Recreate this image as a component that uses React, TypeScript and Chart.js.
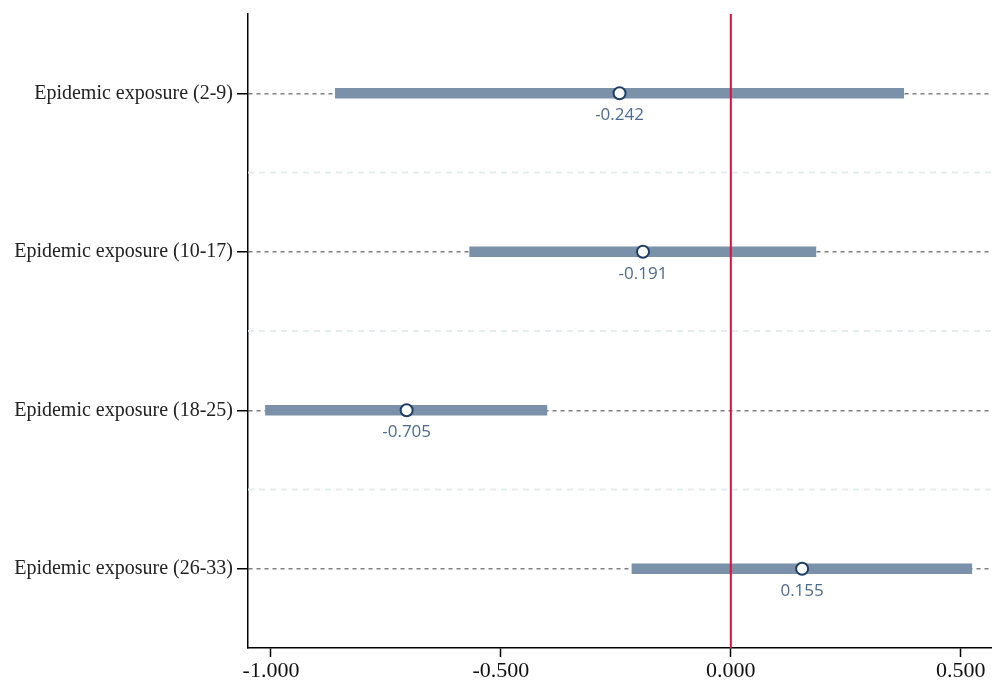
import React, { useEffect, useRef } from "react";
import { Chart, registerables } from "chart.js";

Chart.register(...registerables);

const categories = [
  "Epidemic exposure (2-9)",
  "Epidemic exposure (10-17)",
  "Epidemic exposure (18-25)",
  "Epidemic exposure (26-33)",
];
const estimates = [-0.242, -0.191, -0.705, 0.155];
const ciLow = [-0.86, -0.568, -1.012, -0.215];
const ciHigh = [0.376, 0.185, -0.4, 0.524];
const xTicks = [-1.0, -0.5, 0.0, 0.5];

export default function App() {
  const ref = useRef<HTMLCanvasElement>(null);
  useEffect(() => {
    const canvas = ref.current!;
    const separators = {
      id: "separators",
      beforeDatasetsDraw(chart: any) {
        const y = chart.scales.y;
        const { ctx, chartArea } = chart;
        ctx.save();
        ctx.strokeStyle = "#e6edef";
        ctx.lineWidth = 2;
        ctx.setLineDash([6, 5]);
        for (let i = 0; i < categories.length - 1; i++) {
          const p = (y.getPixelForTick(i) + y.getPixelForTick(i + 1)) / 2;
          ctx.beginPath();
          ctx.moveTo(chartArea.left, p);
          ctx.lineTo(chartArea.right, p);
          ctx.stroke();
        }
        ctx.restore();
      },
      afterDatasetDraw(chart: any, args: any) {
        if (args.index !== 0) return;
        const x = chart.scales.x;
        const { ctx, chartArea } = chart;
        const px = x.getPixelForValue(0);
        ctx.save();
        ctx.strokeStyle = "#d4133e";
        ctx.lineWidth = 2;
        ctx.beginPath();
        ctx.moveTo(px, chartArea.top);
        ctx.lineTo(px, chartArea.bottom);
        ctx.stroke();
        ctx.restore();
      },
      afterDatasetsDraw(chart: any) {
        const meta = chart.getDatasetMeta(1);
        const { ctx } = chart;
        ctx.save();
        ctx.fillStyle = "#4d6b8c";
        ctx.font = "17px 'Open Sans'";
        ctx.textAlign = "center";
        ctx.textBaseline = "middle";
        meta.data.forEach((el: any, i: number) => {
          ctx.fillText(estimates[i].toFixed(3), el.x, el.y + 22);
        });
        ctx.restore();
      },
    };
    const chart = new Chart(canvas, {
      type: "bar",
      data: {
        labels: categories,
        datasets: [
          {
            type: "bar",
            data: categories.map((_, i) => [ciLow[i], ciHigh[i]]) as any,
            backgroundColor: "#7b91a9",
            barThickness: 10,
            order: 2,
          },
          {
            type: "scatter",
            data: categories.map((c, i) => ({ x: estimates[i], y: c })) as any,
            backgroundColor: "#ffffff",
            borderColor: "#1f3e66",
            borderWidth: 2,
            pointRadius: 6,
            order: 1,
          } as any,
        ],
      },
      options: {
        indexAxis: "y",
        responsive: false,
        animation: false,
        devicePixelRatio: 1,
        layout: { autoPadding: false, padding: { top: 14, left: 0, right: 0, bottom: 0 } },
        plugins: { legend: { display: false }, tooltip: { enabled: false } },
        scales: {
          x: {
            type: "linear",
            min: -1.05,
            max: 0.568,
            afterBuildTicks: (s: any) => {
              s.ticks = xTicks.map((v) => ({ value: v }));
            },
            afterFit: (s: any) => {
              s.height = 38;
              s.paddingLeft = 0;
              s.paddingRight = 0;
            },
            ticks: {
              callback: (v: any) => Number(v).toFixed(3),
              color: "#111",
              font: { family: "'Liberation Serif'", size: 22 },
              padding: 1,
            },
            grid: {
              drawOnChartArea: false,
              drawTicks: true,
              tickLength: 9,
              tickColor: "#000",
              tickWidth: 1.5,
            },
            border: { display: true, color: "#000", width: 1.5 },
          },
          y: {
            type: "category",
            offset: true,
            afterFit: (s: any) => {
              s.width = 248;
              s.paddingTop = 0;
              s.paddingBottom = 0;
            },
            ticks: {
              color: "#222",
              font: { family: "'Liberation Serif'", size: 20 },
              padding: 4,
            },
            grid: {
              offset: false,
              drawOnChartArea: true,
              color: "#7f7f7f",
              lineWidth: 1.5,
              tickColor: "#000",
              tickWidth: 1.5,
              tickLength: 11,
              tickBorderDash: [],
            },
            border: { display: true, color: "#000", width: 1.5, dash: [4, 4] },
          },
        },
      },
      plugins: [separators],
    });
    return () => chart.destroy();
  }, []);
  return (
    <div style={{ position: "fixed", left: 0, top: 0, width: 992, height: 686, background: "#fff" }}>
      <canvas ref={ref} width={992} height={686} style={{ width: 992, height: 686 }} />
    </div>
  );
}
